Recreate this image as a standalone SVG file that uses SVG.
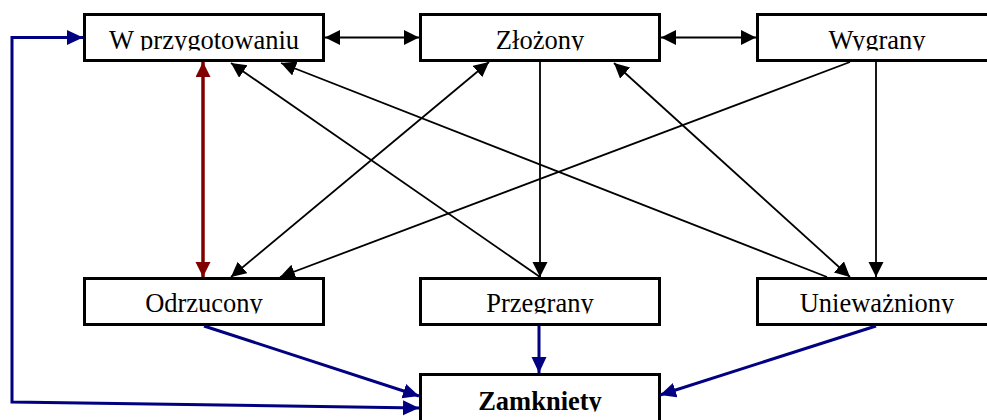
<svg xmlns="http://www.w3.org/2000/svg" width="987" height="420" viewBox="0 0 987 420">
<style>
  .box { fill: #ffffff; stroke: #000000; stroke-width: 3; }
  .lbl { font-family: "Liberation Serif", "Times New Roman", serif; font-size: 26.5px; fill: #000000; text-anchor: middle; }
  .bold { font-weight: bold; }
  .blk { fill: none; stroke: #000000; stroke-width: 1.8; }
  .red { fill: none; stroke: #800000; stroke-width: 3.5; }
  .blu { fill: none; stroke: #000080; stroke-width: 3; }
</style>
<defs>
  <marker id="ab" markerUnits="userSpaceOnUse" markerWidth="16" markerHeight="16" refX="15" refY="7.5" orient="auto-start-reverse" viewBox="0 0 16 16">
    <path d="M0,0 L15,7.5 L0,15 z" fill="#000000"/>
  </marker>
  <marker id="ar" markerUnits="userSpaceOnUse" markerWidth="16" markerHeight="16" refX="15" refY="7.5" orient="auto-start-reverse" viewBox="0 0 16 16">
    <path d="M0,0 L15,7.5 L0,15 z" fill="#800000"/>
  </marker>
  <marker id="au" markerUnits="userSpaceOnUse" markerWidth="17" markerHeight="16" refX="16" refY="7.5" orient="auto-start-reverse" viewBox="0 0 17 16">
    <path d="M0,0 L16,7.5 L0,15 z" fill="#000080"/>
  </marker>
  <clipPath id="c1"><rect x="0" y="15" width="987" height="35.5"/></clipPath>
  <clipPath id="c2"><rect x="0" y="279" width="987" height="34.5"/></clipPath>
  <clipPath id="c3"><rect x="0" y="375" width="987" height="36.5"/></clipPath>
</defs>

<g id="nodes">
  <g id="w-przygotowaniu">
    <rect class="box" x="84.5" y="14.5" width="239" height="46"/>
    <text class="lbl" x="204" y="49.3" clip-path="url(#c1)">W przygotowaniu</text>
  </g>
  <g id="zlozony">
    <rect class="box" x="420.5" y="14.5" width="239" height="46"/>
    <text class="lbl" x="540" y="49.3" clip-path="url(#c1)">Złożony</text>
  </g>
  <g id="wygrany">
    <rect class="box" x="757.5" y="14.5" width="239" height="46"/>
    <text class="lbl" x="877" y="49.3" clip-path="url(#c1)">Wygrany</text>
  </g>
  <g id="odrzucony">
    <rect class="box" x="84.5" y="278.5" width="239" height="46"/>
    <text class="lbl" x="204" y="312" clip-path="url(#c2)">Odrzucony</text>
  </g>
  <g id="przegrany">
    <rect class="box" x="420.5" y="278.5" width="239" height="46"/>
    <text class="lbl" x="540" y="312" clip-path="url(#c2)">Przegrany</text>
  </g>
  <g id="uniewazniony">
    <rect class="box" x="757.5" y="278.5" width="239" height="46"/>
    <text class="lbl" x="877" y="312" clip-path="url(#c2)">Unieważniony</text>
  </g>
  <g id="zamkniety">
    <rect class="box" x="420.5" y="374.5" width="239" height="60"/>
    <text class="lbl bold" x="540" y="409.5" clip-path="url(#c3)">Zamkniety</text>
  </g>
</g>

<g id="connectors">
  <line class="blk" x1="325" y1="37.5" x2="419" y2="37.5" marker-start="url(#ab)" marker-end="url(#ab)"/>
  <line class="blk" x1="661" y1="37.5" x2="756" y2="37.5" marker-start="url(#ab)" marker-end="url(#ab)"/>
  <line class="red" x1="203" y1="62" x2="203" y2="277" marker-start="url(#ar)" marker-end="url(#ar)"/>
  <line class="blk" x1="540" y1="277" x2="231" y2="63" marker-end="url(#ab)"/>
  <line class="blk" x1="827" y1="277" x2="281" y2="63" marker-end="url(#ab)"/>
  <line class="blk" x1="489" y1="62" x2="231" y2="277" marker-start="url(#ab)" marker-end="url(#ab)"/>
  <line class="blk" x1="850" y1="62" x2="280" y2="277" marker-end="url(#ab)"/>
  <line class="blk" x1="540" y1="62" x2="540" y2="277" marker-end="url(#ab)"/>
  <line class="blk" x1="614" y1="63" x2="850" y2="277" marker-start="url(#ab)" marker-end="url(#ab)"/>
  <line class="blk" x1="876" y1="62" x2="876" y2="277" marker-end="url(#ab)"/>
  <line class="blu" x1="204" y1="326" x2="419" y2="396" marker-end="url(#au)"/>
  <line class="blu" x1="539" y1="326" x2="539" y2="373" marker-end="url(#au)"/>
  <line class="blu" x1="876" y1="326" x2="660" y2="395" marker-end="url(#au)"/>
  <path class="blu" d="M419,408 L12,402 L12,37.5 L83,37.5" marker-start="url(#au)" marker-end="url(#au)"/>
</g>
</svg>
